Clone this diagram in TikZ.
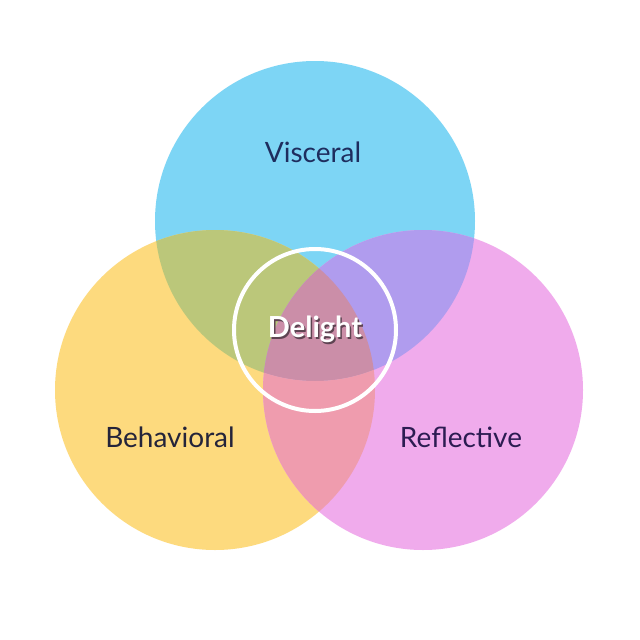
\documentclass[tikz,border=0pt]{standalone}
\usepackage{fontspec}
\setmainfont{Lato}
\definecolor{cblue}{HTML}{7DD5F5}
\definecolor{cyellow}{HTML}{FDDA7E}
\definecolor{cpink}{HTML}{F0ABEC}
\definecolor{cby}{HTML}{BBC77A}
\definecolor{cbp}{HTML}{B09CEE}
\definecolor{cyp}{HTML}{EF9CAE}
\definecolor{cbyp}{HTML}{CB8EA8}
\definecolor{tnavy}{HTML}{1E2D5E}
\definecolor{tdark}{HTML}{24243A}
\definecolor{tpurp}{HTML}{2C1C52}
\definecolor{dshadow}{HTML}{5E4452}
\begin{document}
\begin{tikzpicture}[x=1pt,y=-1pt,
  lbl/.style={font=\fontsize{28}{32}\selectfont},
  delight/.style={font=\bfseries\fontsize{29}{34}\selectfont, text=white}]
\fill[white] (0,0) rectangle (640,640);
\useasboundingbox (0,0) rectangle (640,640);
\coordinate (B) at (315,221);
\coordinate (Y) at (215,390);
\coordinate (P) at (423,390);
\def\R{160}
\fill[cblue] (B) circle (\R);
\fill[cyellow] (Y) circle (\R);
\fill[cpink] (P) circle (\R);
\begin{scope}
  \clip (B) circle (\R);
  \fill[cby] (Y) circle (\R);
  \fill[cbp] (P) circle (\R);
  \clip (Y) circle (\R);
  \fill[cbyp] (P) circle (\R);
\end{scope}
\begin{scope}[even odd rule]
  \clip (Y) circle (\R);
  \clip (P) circle (\R);
  \clip (-10,-10) rectangle (650,650) (B) circle (\R);
  \fill[cyp] (0,0) rectangle (640,640);
\end{scope}
\draw[white, line width=4pt] (315,330) circle (81);
\node[lbl, text=tnavy] (vis) at (313,152) {Visceral};
\node[lbl, text=tdark] (beh) at (170,437) {Behavioral};
\node[lbl, text=tpurp] (ref) at (461,437) {Reflective};
\node[delight] (del) at (315,330)
  {\rlap{\hspace{1.5pt}\raisebox{-2pt}{\color{dshadow}Delight}}Delight};
\end{tikzpicture}
\end{document}
